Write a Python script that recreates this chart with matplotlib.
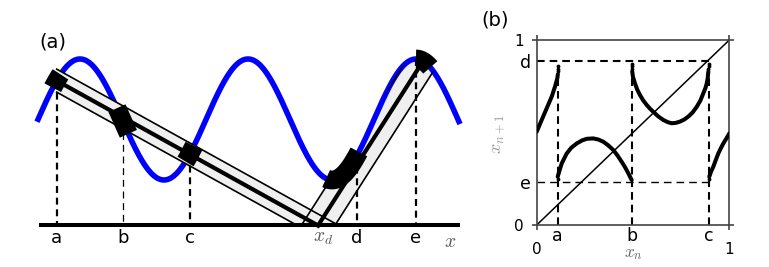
import numpy as np
import matplotlib
matplotlib.use("Agg")
import matplotlib.pyplot as plt
from matplotlib.patches import Polygon

plt.rcParams['mathtext.fontset'] = 'cm'
plt.rcParams['font.family'] = ['DejaVu Sans']
plt.rcParams['lines.scale_dashes'] = False

# ---------------- data ----------------
# Panel (a): wall = one sine, x in units of the sine period, heights in amplitude units
wave_start, wave_end = -0.006, 2.512
floor_level = -1.752
point_names = ['a', 'b', 'c', 'd', 'e']
point_pos = [0.111, 0.504, 0.903, 1.899, 2.248]
x_d = 1.667            # where the beam hits the floor
e_hit = 2.292          # where the reflected beam meets the wall
blob_lo = [0.088, 0.470, 0.878, 1.715, 2.250]
blob_hi = [0.134, 0.538, 0.928, 1.910, 2.335]

# Panel (b): return map
map_x_ticks = [0.109, 0.493, 0.896]      # a, b, c
map_x_labels = ['a', 'b', 'c']
map_y_ticks = [0.888, 0.234]             # d, e
map_y_labels = ['d', 'e']

br1_x = [0.000, 0.026, 0.052, 0.078, 0.095, 0.107, 0.110]
br1_y = [0.504, 0.568, 0.631, 0.694, 0.748, 0.793, 0.815]
br2_x = [0.109, 0.120, 0.130, 0.156, 0.180, 0.208, 0.235, 0.260, 0.294, 0.320, 0.346, 0.372, 0.398, 0.420, 0.441, 0.460, 0.476, 0.493]
br2_y = [0.261, 0.300, 0.333, 0.387, 0.418, 0.441, 0.457, 0.466, 0.468, 0.462, 0.450, 0.430, 0.405, 0.375, 0.342, 0.310, 0.279, 0.243]
br3_x = [0.496, 0.500, 0.510, 0.522, 0.536, 0.552, 0.571, 0.588, 0.605, 0.630, 0.657, 0.680, 0.701, 0.722, 0.744, 0.766, 0.787, 0.810, 0.831, 0.850, 0.865, 0.876, 0.883, 0.888, 0.891]
br3_y = [0.830, 0.800, 0.766, 0.732, 0.703, 0.675, 0.649, 0.629, 0.612, 0.588, 0.568, 0.556, 0.550, 0.552, 0.559, 0.570, 0.586, 0.609, 0.639, 0.673, 0.712, 0.740, 0.766, 0.795, 0.829]
br4_x = [0.896, 0.905, 0.917, 0.930, 0.943, 0.956, 0.969, 0.985, 1.000]
br4_y = [0.261, 0.288, 0.315, 0.352, 0.387, 0.415, 0.441, 0.468, 0.495]
ends_x = [0.111, 0.112, 0.113, 0.495, 0.496, 0.497, 0.892, 0.893, 0.894, 0.112, 0.895]
ends_y = [0.830, 0.845, 0.860, 0.845, 0.860, 0.870, 0.845, 0.860, 0.870, 0.250, 0.250]

# ---------------- figure ----------------
W, H = 769, 267
fig = plt.figure(figsize=(W / 100, H / 100), dpi=100)

# ===== panel (a) =====
axa = fig.add_axes([0, 0, 470 / W, 1])
axa.set_xlim(-0.2262, 2.5714)
axa.set_ylim(-2.438, 1.975)
axa.axis('off')


def wave(u):
    return np.sin(2 * np.pi * np.asarray(u))


uu = np.linspace(wave_start, wave_end, 1000)
axa.plot(uu, wave(uu), color='#0000ff', lw=4.0, solid_capstyle='butt', zorder=2)

# region below the wall, used to clip the reflected beam
under = np.vstack([np.column_stack([uu, wave(uu)]),
                   [[wave_end, floor_level - 1], [wave_start, floor_level - 1]]])
clip_poly = Polygon(under, closed=True, transform=axa.transData)

# incoming beam (a,b,c -> x_d)
pa = point_pos[0]
ya = float(wave(pa))
slope1 = (ya - floor_level) / (x_d - pa)
h1 = 0.19
dx1 = h1 / slope1
band1 = [(pa, ya + h1), (x_d + dx1, floor_level), (x_d - dx1, floor_level), (pa, ya - h1)]
axa.add_patch(Polygon(band1, closed=True, fc='#efefef', ec='none', zorder=3))
axa.plot([pa, x_d + dx1], [ya + h1, floor_level], color='k', lw=1.2, zorder=3.5)
axa.plot([pa, x_d - dx1], [ya - h1, floor_level], color='k', lw=1.2, zorder=3.5)
axa.plot([pa, x_d], [ya, floor_level], color='k', lw=3.0, zorder=3.6)

# reflected beam (x_d -> wall near d..e)
ye = float(wave(e_hit))
du, dy = (e_hit - x_d) * 1.4, (ye - floor_level) * 1.4
h2 = 0.1
band2 = [(x_d - h2, floor_level), (x_d - h2 + du, floor_level + dy),
         (x_d + h2 + du, floor_level + dy), (x_d + h2, floor_level)]
p2 = Polygon(band2, closed=True, fc='#efefef', ec='none', zorder=1.5)
axa.add_patch(p2)
p2.set_clip_path(clip_poly)
for off, lw in [(-h2, 1.2), (h2, 1.2), (0.0, 3.0)]:
    ln, = axa.plot([x_d + off, x_d + off + du], [floor_level, floor_level + dy],
                   color='k', lw=lw, zorder=3.2)
    ln.set_clip_path(clip_poly)

# dashed drop lines
for name, p in zip(point_names, point_pos):
    lw = 0.9 if name == 'b' else 1.6
    axa.plot([p, p], [float(wave(p)), floor_level], color='k', lw=lw,
             dashes=(5.0, 3.4), zorder=3.8)

# black intervals on the wall
for lo, hi in zip(blob_lo, blob_hi):
    us = np.linspace(lo, hi, 40)
    axa.plot(us, wave(us), color='k', lw=13.5, solid_capstyle='butt', zorder=5)

# floor
axa.plot([0.006, wave_end], [floor_level, floor_level], color='k', lw=2.9,
         solid_capstyle='butt', zorder=6)

lab_y = -1.955
for name, p in zip(point_names, point_pos):
    axa.text(p, lab_y, name, fontsize=13, ha='center', va='center')
axa.text(x_d + 0.03, lab_y, r'$x_d$', fontsize=14, ha='center', va='center', color='#555555')
axa.text(2.452, -2.01, r'$x$', fontsize=14, ha='center', va='center', color='#555555')
fig.text(53 / W, 1 - 42 / H, '(a)', fontsize=14, ha='center', va='center')

# ===== panel (b) =====
axb = fig.add_axes([536.7 / W, 42 / H, 192.6 / W, 185 / H])
axb.set_xlim(0, 1)
axb.set_ylim(0, 1)

axb.plot([0, 1], [0, 1], color='k', lw=1.1, zorder=2)
dash = (5.5, 3.6)
axb.plot([0, map_x_ticks[2]], [map_y_ticks[0]] * 2, color='k', lw=1.5, dashes=dash, zorder=2)
axb.plot([0, map_x_ticks[2]], [map_y_ticks[1]] * 2, color='k', lw=1.0, dashes=dash, zorder=2)
for xv in map_x_ticks:
    axb.plot([xv, xv], [0, map_y_ticks[0]], color='k', lw=1.5, dashes=dash, zorder=2)

for bx, by in [(br1_x, br1_y), (br2_x, br2_y), (br3_x, br3_y), (br4_x, br4_y)]:
    axb.plot(bx, by, color='k', lw=2.9, solid_capstyle='round', zorder=3)
axb.scatter(ends_x, ends_y, s=3, color='k', zorder=3)

axb.set_xticks([0, 1])
axb.set_xticklabels(['0', '1'])
axb.set_yticks([0, 1])
axb.set_yticklabels(['0', '1'])
axb.set_xticks(map_x_ticks, minor=True)
axb.set_xticklabels(map_x_labels, minor=True)
axb.set_yticks(map_y_ticks, minor=True)
axb.set_yticklabels(map_y_labels, minor=True)
axb.tick_params(which='major', direction='out', length=3.6, width=1.2, color='#444444',
                top=True, right=True, labelsize=11)
axb.tick_params(axis='x', which='major', pad=9.0)
axb.tick_params(axis='y', which='major', pad=5.8)
axb.tick_params(which='minor', length=0, labelsize=12.5)
axb.tick_params(axis='x', which='minor', pad=1.2)
axb.tick_params(axis='y', which='minor', pad=4.0)
for s in axb.spines.values():
    s.set_color('#444444')
    s.set_linewidth(1.2)

fig.text(633 / W, 1 - 253.5 / H, r'$x_n$', fontsize=12.5, ha='center', va='center', color='#666666')
fig.text(498 / W, 1 - 134 / H, r'$x_{n+1}$', fontsize=13, ha='center', va='center',
         rotation=90, color='#999999')
fig.text(495 / W, 1 - 20 / H, '(b)', fontsize=14, ha='center', va='center')

fig.savefig('out.png', dpi=100)
